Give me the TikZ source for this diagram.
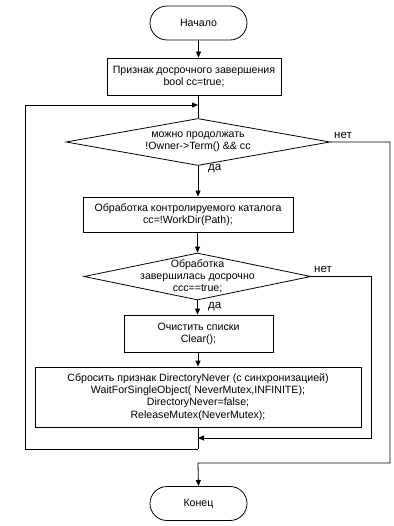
\documentclass[tikz,border=0pt]{standalone}
\usepackage{fontspec}
\setmainfont{Liberation Sans}
\usetikzlibrary{shapes.geometric,shapes.misc,arrows.meta}
\begin{document}
\begin{tikzpicture}[x=1pt,y=-1pt,
  every node/.style={font=\fontsize{10.6}{12.2}\selectfont, align=center, inner sep=0pt},
  line/.style={draw=black, line width=0.8pt},
  arr/.style={line, -{Triangle[length=6pt,width=5pt]}},
  term/.style={line, rounded rectangle, minimum width=97pt, minimum height=34pt},
  proc/.style={line, rectangle},
  dia/.style={line, diamond},
  lbl/.style={font=\fontsize{11.5}{12}\selectfont}
]
\useasboundingbox (0,0) rectangle (393,526);
\fill[white] (0,0) rectangle (393,526);

\node[term] (start) at (198.5,23) {Начало};
\node[proc, minimum width=174pt, minimum height=37pt] (box1) at (194,76.5)
  {Признак досрочного завершения\\bool cc=true;};
\node[dia, minimum width=264pt, minimum height=47pt] (d1) at (198,142) {};
\node (t1) at (198,142) {можно продолжать\\!Owner->Term() \&\& cc};
\node[proc, minimum width=210pt, minimum height=35pt] (box2) at (188,214.5)
  {Обработка контролируемого каталога\\cc=!WorkDir(Path);};
\node[dia, minimum width=227pt, minimum height=47pt] (d2) at (197.5,276.5) {};
\node (t2) at (197.5,276.5) {Обработка\\завершилась досрочно\\ccc==true;};
\node[proc, minimum width=149pt, minimum height=37pt] (box3) at (198.5,333.5)
  {Очистить списки\\Clear();};
\node[proc, minimum width=326pt, minimum height=60pt] (box4) at (198,397)
  {Сбросить признак DirectoryNever (с синхронизацией)\\WaitForSingleObject( NeverMutex,INFINITE);\\DirectoryNever=false;\\ReleaseMutex(NeverMutex);};
\node[term] (end) at (198.5,503.5) {Конец};

\coordinate (j1) at (198,105);
\coordinate (j2) at (198,438);
\coordinate (j3) at (198,449);
\coordinate (j4) at (198,463);

\draw[arr] (start.south) -- (start.south |- box1.north);
\draw[line] (box1.south -| d1.north) -- (d1.north);
\draw[arr] (d1.south) -- (d1.south |- box2.north);
\draw[arr] (box2.south -| d2.north) -- (d2.north);
\draw[arr] (d2.south) -- (d2.south |- box3.north);
\draw[arr] (box3.south -| j3) -- (box4.north -| j3);
\draw[line] (box4.south -| j3) -- (j3);
\draw[arr] (j3) -- (25,449) -- (25,105) -- (j1);
\draw[arr] (d2.east) -- (371,276.5) -- (371,438) -- (j2);
\draw[arr] (d1.east) -- (390,142) -- (390,463) -- (j4) -- (end.north);

\node[lbl, anchor=south west] (n1) at (334,139) {нет};
\node[lbl, anchor=north west] (y1) at (208,164) {да};
\node[lbl, anchor=south west] (n2) at (314,273) {нет};
\node[lbl, anchor=north west] (y2) at (208,302) {да};
\end{tikzpicture}
\end{document}
